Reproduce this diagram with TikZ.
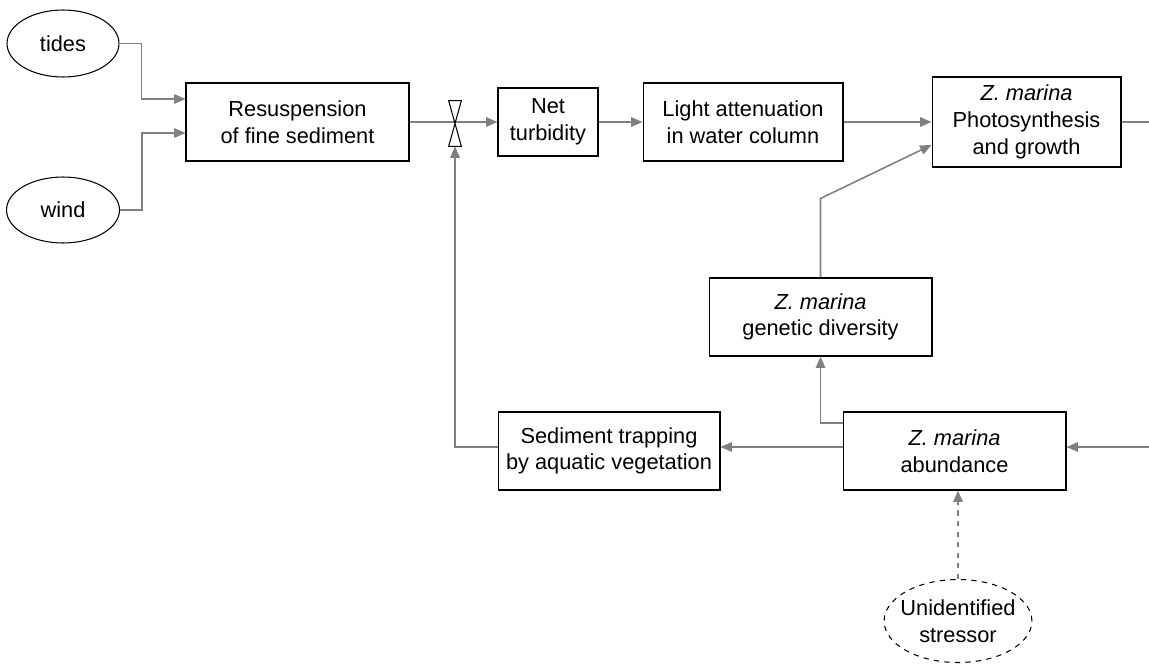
\documentclass[tikz,border=0pt]{standalone}
\usepackage{fontspec}
\setmainfont{Liberation Sans}
\usetikzlibrary{arrows.meta,shapes.geometric}

\tikzset{
  box/.style={draw=black, line width=0.6pt, fill=white, align=center, inner sep=2pt},
  driver/.style={ellipse, draw=black, line width=0.6pt, fill=white, align=center, inner sep=0pt},
  link/.style={draw=gray, line width=0.9pt, -{Triangle[length=6.5pt,width=5.4pt]}},
  plain/.style={draw=gray, line width=0.9pt}
}

\begin{document}
\begin{tikzpicture}[x=0.02cm, y=-0.02cm, font=\fontsize{12.4}{15.2}\selectfont]
        \useasboundingbox (0,0) rectangle (1149,666);

        % Forcantes
        \node[driver, minimum width=2.24cm, minimum height=1.34cm] (tides) at (63,43.5) {tides};
        \node[driver, minimum width=2.26cm, minimum height=1.32cm] (wind) at (63,210) {wind};

        % Caixas da cadeia de turbidez
        \node[box, minimum width=4.46cm, minimum height=1.56cm] (res) at (297.5,122) {Resuspension\\of fine sediment};
        \node[box, minimum width=2.0cm, minimum height=1.36cm] (net) at (548,122) {Net\\turbidity};
        \node[box, minimum width=4.0cm, minimum height=1.56cm] (light) at (743,122) {Light attenuation\\in water column};
        \node[box, minimum width=3.78cm, minimum height=1.8cm] (photo) at (1026.5,122) {\textit{Z. marina}\\Photosynthesis\\and growth};

        % Caixas inferiores
        \node[box, minimum width=4.46cm, minimum height=1.56cm] (gen) at (820.5,317) {\textit{Z. marina}\\genetic diversity};
        \node[box, minimum width=4.46cm, minimum height=1.56cm] (abund) at (954.5,451) {\textit{Z. marina}\\abundance};
        \node[box, minimum width=4.44cm, minimum height=1.56cm] (sed) at (609,451) {Sediment trapping\\by aquatic vegetation};
        \node[driver, dashed, inner xsep=-3pt, inner ysep=-1pt, minimum width=2.94cm, minimum height=1.66cm] (stress) at (958,621) {Unidentified\\stressor};

        % Valvula
        \node[minimum width=0.24cm, minimum height=0.9cm, inner sep=0pt] (valve) at (455,123.5) {};

        % Pontas livres na margem direita
        \coordinate (outR) at (1149,122);
        \coordinate (inR) at (1149,447);

        % Conexoes
        \draw[link] (tides.east) -- ++(22,0) |- ([yshift=0.46cm]res.west);
        \draw[link] (wind.east) -- ++(22,0) |- ([yshift=-0.22cm]res.west);
        \draw[link] (res.east) -- (net.west);
        \draw[link] (net.east) -- (light.west);
        \draw[link] (light.east) -- (photo.west);
        \draw[plain] (photo.east) -- (outR);
        \draw[link] (gen.north) -- ++(0,-79) -- ([yshift=-0.46cm]photo.west);
        \draw[link] ([yshift=0.56cm]abund.west) -| (gen.south);
        \draw[link] ([yshift=0.08cm]abund.west) -- ([yshift=0.08cm]sed.east);
        \draw[link] ([yshift=0.08cm]sed.west) -| (valve.south);
        \draw[link] (inR) -- (inR -| abund.east);
        \draw[link, dashed] (stress.north) -- (stress.north |- abund.south);

        % Simbolo da valvula
        \draw[black, line width=0.6pt, fill=white] (valve.north west) -- (valve.north east) -- (valve.south west) -- (valve.south east) -- cycle;
\end{tikzpicture}
\end{document}
